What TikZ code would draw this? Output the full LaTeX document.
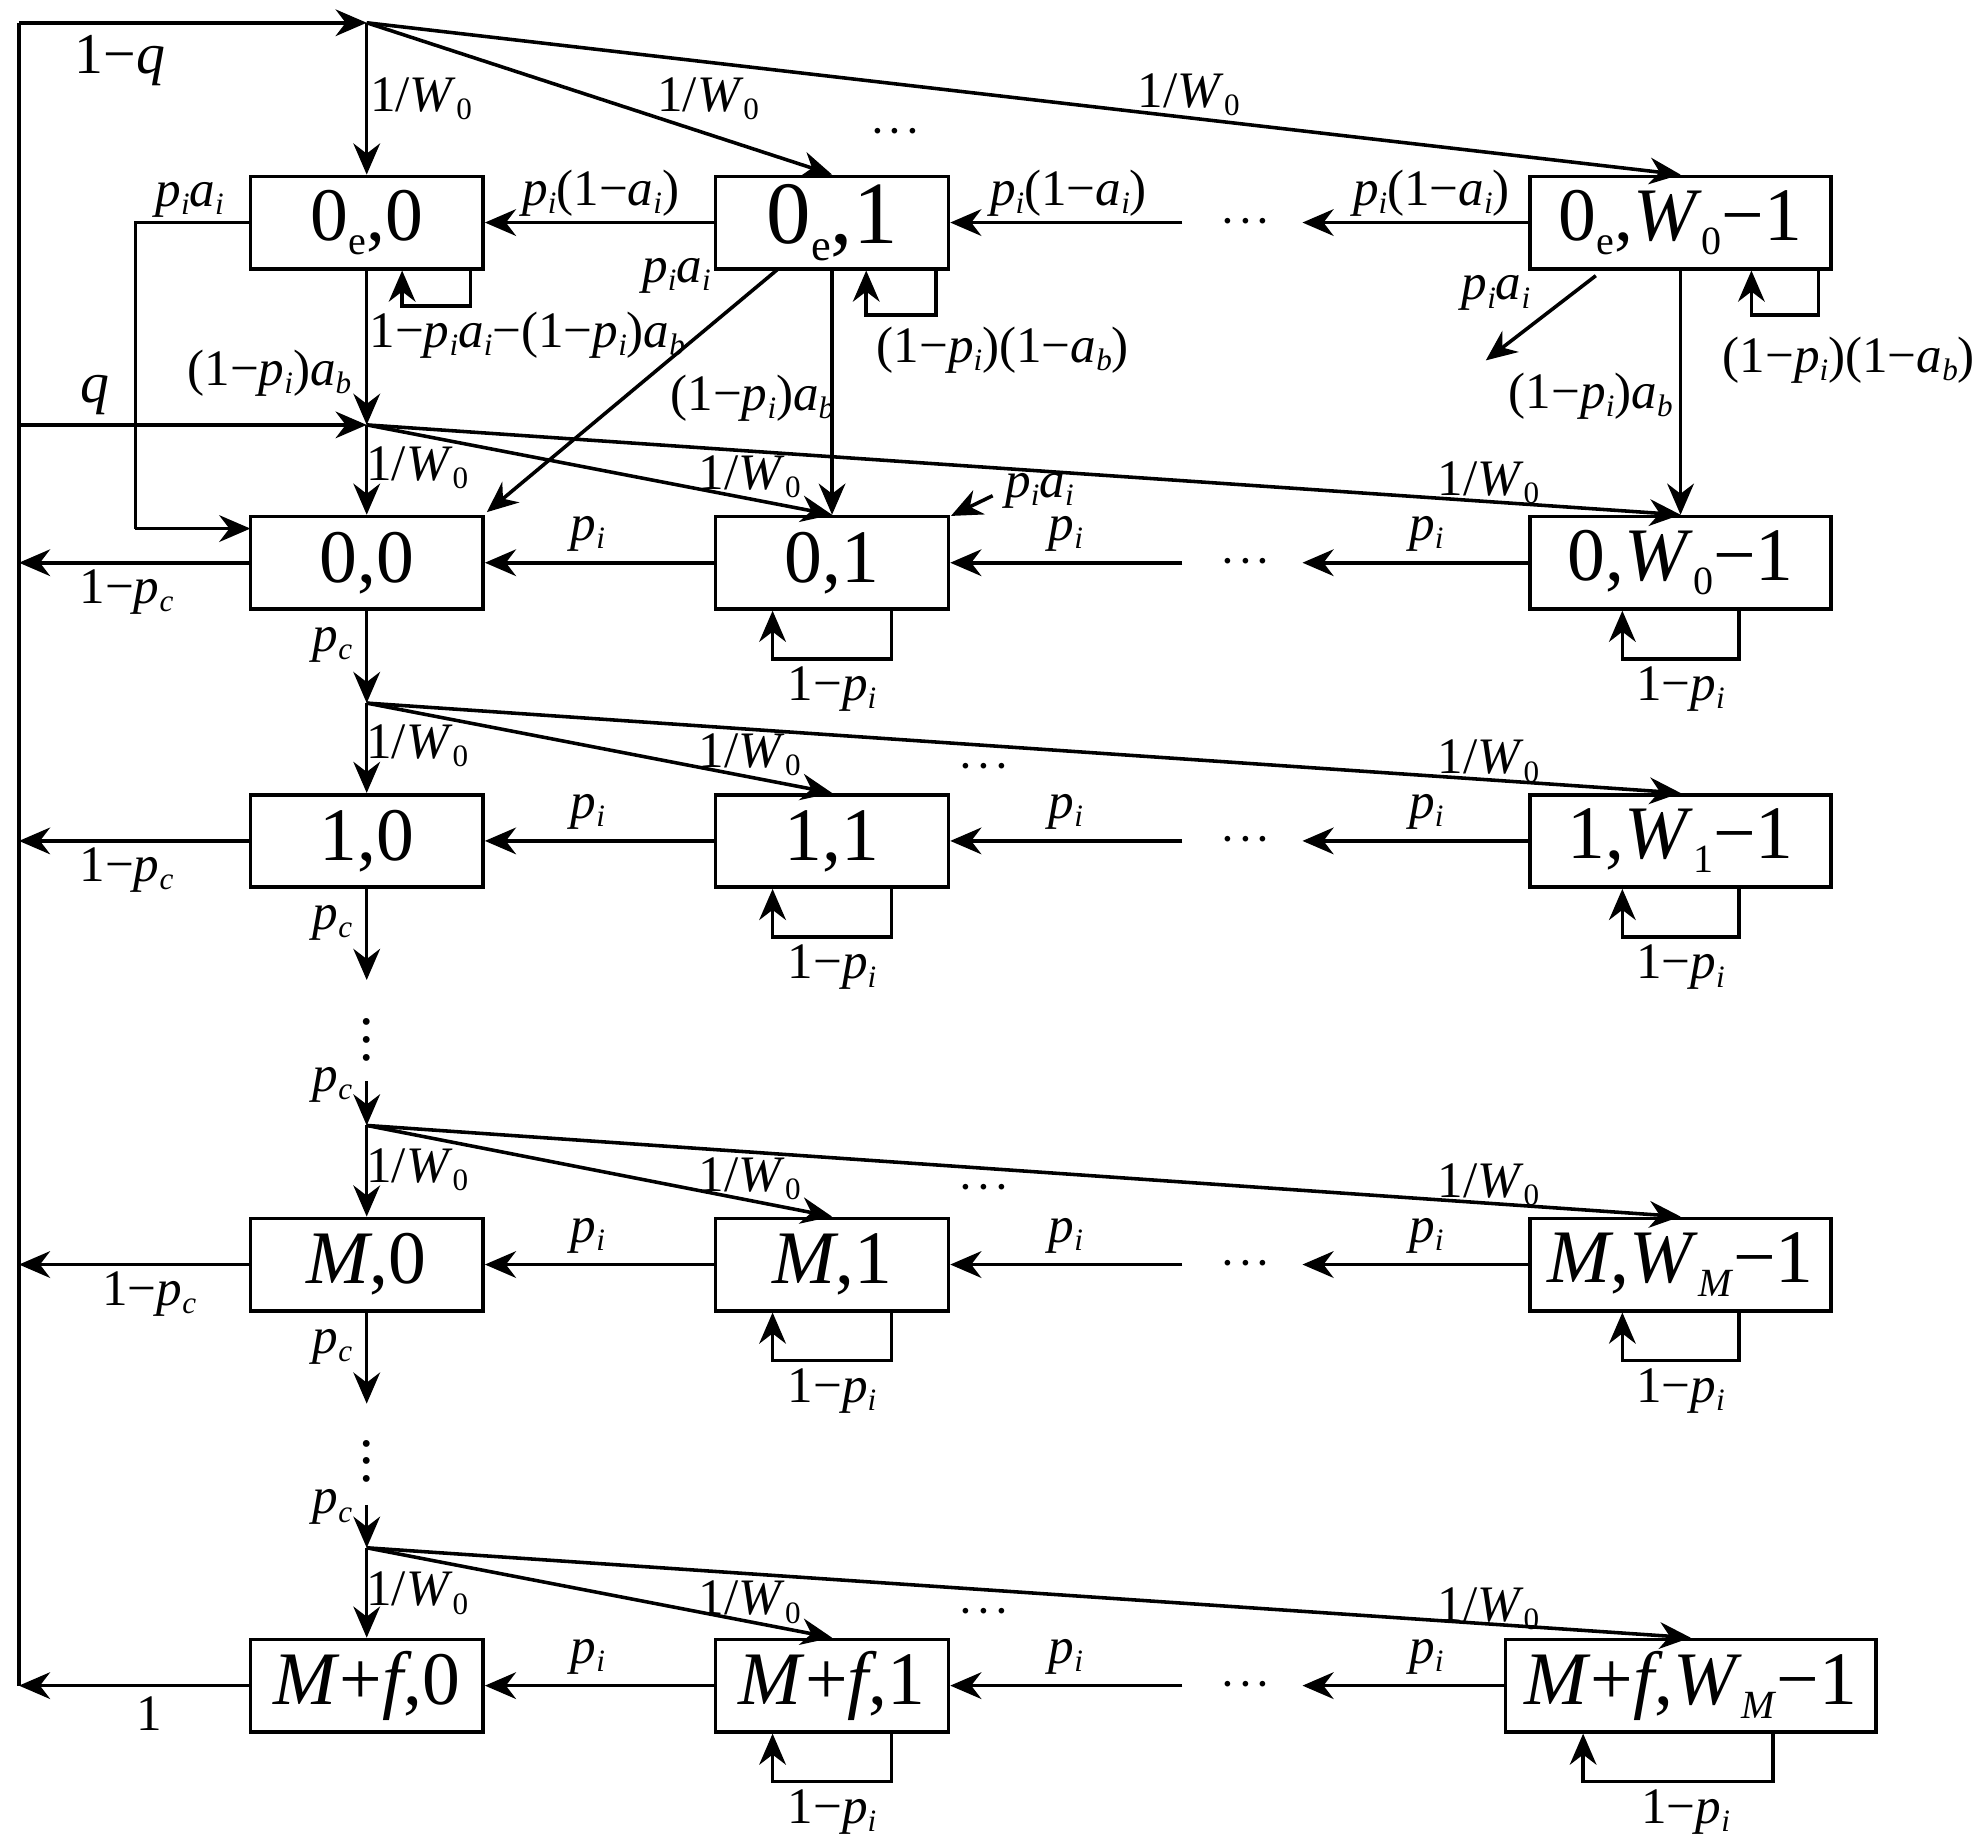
\documentclass[tikz,border=0pt]{standalone}
\usepackage{fontspec}
\setmainfont{Liberation Serif}
\usetikzlibrary{arrows.meta}
\newcommand\vv[1]{\textit{#1}}
\newcommand\sbs[1]{\raisebox{-0.35ex}{\scriptsize #1}}
\newcommand\pii{\vv{p}\sbs{\vv{i}}}
\newcommand\aii{\vv{a}\sbs{\vv{i}}}
\newcommand\abb{\vv{a}\sbs{\vv{b}}}
\newcommand\pcc{\vv{p}\sbs{\vv{c}}}
\newcommand\WWz{1/\vv{W}\sbs{0}}
\newcommand\hd{$\cdot\!\cdot\!\cdot$}
\begin{document}
\begin{tikzpicture}[x=0.01cm,y=-0.01cm,
  box/.style={draw,line width=0.8pt,minimum width=1.84cm,minimum height=0.73cm,inner sep=0pt,font=\fontsize{17}{17}\selectfont},
  wbox/.style={box,minimum width=2.38cm},
  lab/.style={font=\fontsize{11.5}{12}\selectfont,inner sep=1pt},
  ar/.style={-{Stealth[length=7pt,width=6pt]},line width=0.8pt},
  ln/.style={line width=0.8pt}]
\useasboundingbox (0,0) rectangle (1565,1460);
% boxes
\node[box] (e0) at (290,176) {0\raisebox{-0.4ex}{\small e},0};
\node[box,font=\fontsize{20}{20}\selectfont] (e1) at (658,176) {0\raisebox{-0.4ex}{\normalsize e},1};
\node[wbox] (e2) at (1329,176) {0\raisebox{-0.4ex}{\small e},\vv{W}\raisebox{-0.4ex}{\small 0}−1};
\node[box] (a0) at (290,445) {0,0};
\node[box] (a1) at (658,445) {0,1};
\node[wbox] (a2) at (1329,445) {0,\vv{W}\raisebox{-0.4ex}{\small 0}−1};
\node[box] (b0) at (290,665) {1,0};
\node[box] (b1) at (658,665) {1,1};
\node[wbox] (b2) at (1329,665) {1,\vv{W}\raisebox{-0.4ex}{\small 1}−1};
\node[box] (c0) at (290,1000) {\vv{M},0};
\node[box] (c1) at (658,1000) {\vv{M},1};
\node[wbox] (c2) at (1329,1000) {\vv{M},\vv{W}\raisebox{-0.4ex}{\small\vv{M}}−1};
\node[box] (d0) at (290,1333) {\vv{M}+\vv{f},0};
\node[box] (d1) at (658,1333) {\vv{M}+\vv{f},1};
\node[box,minimum width=2.93cm] (d2) at (1337,1333) {\vv{M}+\vv{f},\vv{W}\raisebox{-0.4ex}{\small\vv{M}}−1};
% split points
\coordinate (s0) at (290,18);
\coordinate (s1) at (290,336);
\coordinate (s2) at (290,556);
\coordinate (s3) at (290,890);
\coordinate (s4) at (290,1224);
\coordinate (L0) at (15,18);
\coordinate (L1) at (15,336);
\coordinate (L9) at (15,1333);
\draw[ln] (L9) -- (L0);
\draw[ar] (L0) -- (s0);
\draw[ar] (L1) -- (s1);
\node[lab,font=\fontsize{13}{13}\selectfont] at (95,48) {1−\vv{q}};
\node[lab,font=\fontsize{13}{13}\selectfont] at (75,312) {\vv{q}};
% fan-out arrows
\foreach \s/\r in {s0/e,s1/a,s2/b,s3/c,s4/d}{
  \draw[ar] (\s) -- (\r0.north);
  \draw[ar] (\s) -- (\r1.north);
  \draw[ar] (\s) -- (\r2.north);
}
\node[lab] at (708,105) {\hd};
\node[lab] at (778,607) {\hd};
\node[lab] at (778,940) {\hd};
\node[lab] at (778,1275) {\hd};
\node[lab] at (333,78) {\WWz};
\node[lab] at (560,78) {\WWz};
\node[lab] at (940,75) {\WWz};
\foreach \y in {370,590,925,1260}{
\node[lab] at (330,\y) {\WWz};
\node[lab] at (593,\y+7) {\WWz};
\node[lab] at (1177,\y+12) {\WWz};}
% left exits
\foreach \r in {a,b,c,d}{
  \coordinate (x\r) at (15,0 |- \r0.west);
  \draw[ar] (\r0.west) -- (x\r);
}
\node[lab] at (100,468) {1−\pcc};
\node[lab] at (100,688) {1−\pcc};
\node[lab] at (118,1023) {1−\pcc};
\node[lab] at (118,1355) {1};
% horizontal chains rows a-d
\foreach \r/\y in {a/445,b/665,c/1000,d/1333}{
  \draw[ar] (\r1.west) -- (\r0.east);
  \coordinate (m\r) at (935,\y);
  \coordinate (n\r) at (1030,\y);
  \draw[ar] (m\r) -- (\r1.east);
  \draw[ar] (\r2.west) -- (n\r);
  \node[lab] at (985,\y) {\hd};
  \node[lab] at (465,\y-23) {\pii};
  \node[lab] at (843,\y-23) {\pii};
  \node[lab] at (1128,\y-23) {\pii};
  \draw[ar] ([xshift=0.47cm]\r1.south) |- ++(0,38) -| ([xshift=-0.47cm]\r1.south);
  \node[lab] at (658,\y+100) {1−\pii};
}
\foreach \r/\y in {a/445,b/665,c/1000}{
  \draw[ar] ([xshift=0.46cm]\r2.south) |- ++(0,38) -| ([xshift=-0.46cm]\r2.south);
  \node[lab] at (1329,\y+100) {1−\pii};}
\draw[ar] ([xshift=0.65cm]d2.south) |- ++(0,38) -| ([xshift=-0.85cm]d2.south);
\node[lab] at (1333,1433) {1−\pii};
% vertical p_c chain
\draw[ar] (a0.south) -- (s2);
\node[lab] at (263,510) {\pcc};
\coordinate (v1) at (290,775); \coordinate (v2) at (290,855);
\draw[ar] (b0.south) -- (v1);
\node[lab] at (263,730) {\pcc};
\node[font=\fontsize{13}{13}\selectfont,inner sep=0pt] at (290,812) {$\vdots$};
\draw[ar] (v2) -- (s3);
\node[lab] at (263,858) {\pcc};
\coordinate (v3) at (290,1110); \coordinate (v4) at (290,1190);
\draw[ar] (c0.south) -- (v3);
\node[lab] at (263,1065) {\pcc};
\node[font=\fontsize{13}{13}\selectfont,inner sep=0pt] at (290,1145) {$\vdots$};
\draw[ar] (v4) -- (s4);
\node[lab] at (263,1192) {\pcc};
% row e
\draw[ar] (e1.west) -- (e0.east);
\node[lab] at (475,153) {\pii(1−\aii)};
\coordinate (me) at (935,176); \coordinate (ne) at (1030,176);
\draw[ar] (me) -- (e1.east);
\draw[ar] (e2.west) -- (ne);
\node[lab] at (985,176) {\hd};
\node[lab] at (845,153) {\pii(1−\aii)};
\node[lab] at (1132,153) {\pii(1−\aii)};
\coordinate (q1) at (107,176); \coordinate (q2) at (107,418);
\draw[ln] (e0.west) -- (q1) -- (q2);
\draw[ar] (q2) -- (198,418);
\node[lab] at (150,158) {\pii\aii};
\draw[ar] ([xshift=0.82cm]e0.south) |- ++(0,28) -| ([xshift=0.28cm]e0.south);
\node[lab] at (417,265) {1−\pii\aii−(1−\pii)\abb};
\draw[ar] (e0.south) -- (s1);
\node[lab] at (213,295) {(1−\pii)\abb};
\draw[ar] (615,213) -- (385,405);
\node[lab] at (535,218) {\pii\aii};
\draw[ar] (e1.south) -- (a1.north);
\node[lab] at (595,315) {(1−\pii)\abb};
\draw[ar] ([xshift=0.82cm]e1.south) |- ++(0,35) -| ([xshift=0.27cm]e1.south);
\node[lab] at (793,277) {(1−\pii)(1−\abb)};
\coordinate (g1) at (1262,218); \coordinate (g2) at (1175,285);
\draw[ar] (g1) -- (g2);
\node[lab] at (1183,232) {\pii\aii};
\draw[ar] (e2.south) -- (a2.north);
\node[lab] at (1258,313) {(1−\pii)\abb};
\draw[ar] ([xshift=1.09cm]e2.south) |- ++(0,35) -| ([xshift=0.56cm]e2.south);
\node[lab] at (1462,285) {(1−\pii)(1−\abb)};
\coordinate (h1) at (785,392);
\draw[ar] (h1) -- (752,408);
\node[lab] at (822,388) {\pii\aii};
\end{tikzpicture}
\end{document}
